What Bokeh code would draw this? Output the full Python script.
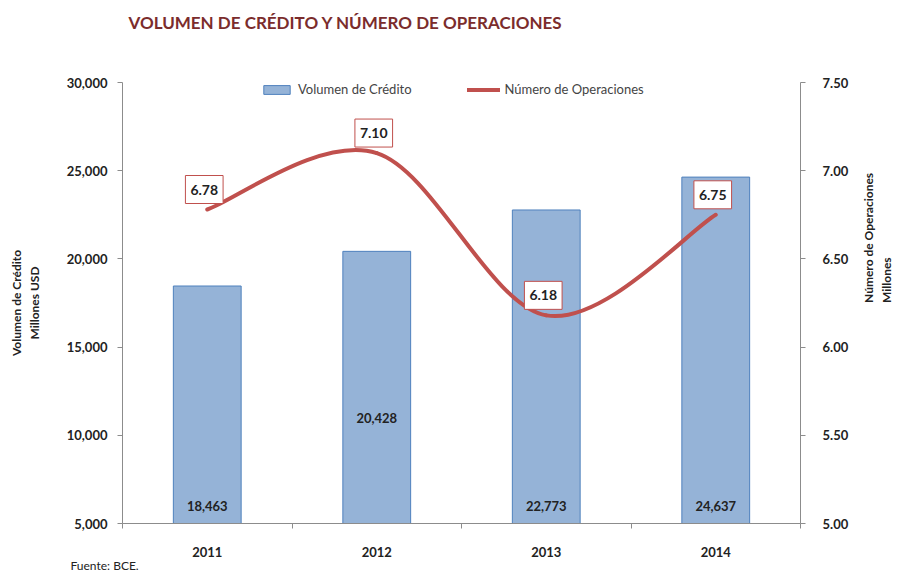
import math
from bokeh.plotting import figure
from bokeh.models import (Range1d, LinearAxis, FixedTicker, ColumnDataSource, LabelSet,
                          Legend, LegendItem, Label, NumeralTickFormatter, Title)
from bokeh.core.properties import value
from bokeh.embed import file_html
from bokeh.resources import INLINE

# ---- data ----
years = ["2011", "2012", "2013", "2014"]
volumen = [18463, 20428, 22773, 24637]
operaciones = [6.78, 7.10, 6.18, 6.75]
left_ticks = [5000, 10000, 15000, 20000, 25000, 30000]
right_ticks = [5.0, 5.5, 6.0, 6.5, 7.0, 7.5]

# ---- styles ----
FONT = "Lato"
BAR_FILL = "#95B3D7"
BAR_LINE = "#4F81BD"
LINE_COL = "#C0504D"
TITLE_COL = "#7B2C2C"
AXIS_COL = "#8C8C8C"
TXT_COL = "#222222"
bar_label_offsets = [13, 101, 13, 13]
FW, FH = 678, 441

n = len(years)
xs = [i + 0.5 for i in range(n)]

p = figure(frame_width=FW, frame_height=FH, output_backend="svg", toolbar_location=None,
           x_range=Range1d(0, n), y_range=Range1d(left_ticks[0], left_ticks[-1]),
           min_border_left=122, min_border_right=98, min_border_top=82, min_border_bottom=49)
p.extra_y_ranges = {"ops": Range1d(right_ticks[0], right_ticks[-1])}
p.outline_line_color = None
p.grid.visible = False
p.background_fill_color = "white"
p.border_fill_color = "white"

# title: blank trailing lines keep it high above the plot area
p.add_layout(Title(text="VOLUMEN DE CRÉDITO Y NÚMERO DE OPERACIONES\n \n ", align="left",
                   offset=6, standoff=16,
                   text_font=FONT, text_font_size="17px", text_font_style="bold",
                   text_color=TITLE_COL), "above")

# x axis
xa = p.xaxis[0]
xa.ticker = FixedTicker(ticks=xs, minor_ticks=list(range(n + 1)))
xa.major_label_overrides = {x: y for x, y in zip(xs, years)}
xa.major_tick_out = 0
xa.major_tick_in = 0
xa.minor_tick_out = 5
xa.minor_tick_in = 0
xa.minor_tick_line_color = AXIS_COL
xa.axis_line_color = AXIS_COL
xa.major_label_standoff = 18
xa.major_label_text_font = FONT
xa.major_label_text_font_style = "bold"
xa.major_label_text_font_size = "13px"
xa.major_label_text_color = TXT_COL

# left axis
ya = p.yaxis[0]
ya.ticker = FixedTicker(ticks=left_ticks)
ya.formatter = NumeralTickFormatter(format="0,0")
ya.minor_tick_line_color = None
ya.major_tick_in = 0
ya.major_tick_out = 5
ya.major_tick_line_color = AXIS_COL
ya.axis_line_color = AXIS_COL
ya.major_label_standoff = 10
ya.major_label_text_font = FONT
ya.major_label_text_font_style = "bold"
ya.major_label_text_font_size = "13px"
ya.major_label_text_color = TXT_COL
ya.axis_label = "Volumen de Crédito\nMillones USD"
ya.axis_label_text_font = FONT
ya.axis_label_text_font_style = "bold"
ya.axis_label_text_font_size = "12px"
ya.axis_label_text_color = TXT_COL
ya.axis_label_standoff = 22

# right axis
ra = LinearAxis(y_range_name="ops", ticker=FixedTicker(ticks=right_ticks),
                formatter=NumeralTickFormatter(format="0.00"))
ra.minor_tick_line_color = None
ra.major_tick_in = 0
ra.major_tick_out = 5
ra.major_tick_line_color = AXIS_COL
ra.axis_line_color = AXIS_COL
ra.major_label_standoff = 17
ra.major_label_text_font = FONT
ra.major_label_text_font_style = "bold"
ra.major_label_text_font_size = "13px"
ra.major_label_text_color = TXT_COL
ra.axis_label = "Número de Operaciones\nMillones"
ra.axis_label_text_font = FONT
ra.axis_label_text_font_style = "bold"
ra.axis_label_text_font_size = "12px"
ra.axis_label_text_color = TXT_COL
ra.axis_label_standoff = 26
ra.axis_label_orientation = math.pi / 2
p.add_layout(ra, "right")

# bars
bar_src = ColumnDataSource(dict(x=xs, top=volumen,
                                txt=[f"{v:,}" for v in volumen],
                                yb=[left_ticks[0]] * n, yo=bar_label_offsets))
bars = p.vbar(x="x", top="top", bottom=left_ticks[0], width=0.4, source=bar_src,
              fill_color=BAR_FILL, line_color=BAR_LINE, line_width=1)
p.add_layout(LabelSet(x="x", y="yb", text="txt", source=bar_src, y_offset="yo",
                      text_align="center", text_baseline="bottom",
                      text_font=value(FONT), text_font_style="bold", text_font_size="13px",
                      text_color=TXT_COL))

# smoothed line (Catmull-Rom -> cubic Bezier segments computed from the data)
pts = list(zip(xs, operaciones))
x0, y0, x1, y1, cx0, cy0, cx1, cy1 = [], [], [], [], [], [], [], []
for i in range(n - 1):
    pm = pts[i - 1] if i > 0 else pts[i]
    pa = pts[i]
    pb = pts[i + 1]
    pn = pts[i + 2] if i + 2 < n else pts[i + 1]
    x0.append(pa[0]); y0.append(pa[1]); x1.append(pb[0]); y1.append(pb[1])
    cx0.append(pa[0] + (pb[0] - pm[0]) / 6); cy0.append(pa[1] + (pb[1] - pm[1]) / 6)
    cx1.append(pb[0] - (pn[0] - pa[0]) / 6); cy1.append(pb[1] - (pn[1] - pa[1]) / 6)
bez = p.bezier(x0=x0, y0=y0, x1=x1, y1=y1, cx0=cx0, cy0=cy0, cx1=cx1, cy1=cy1,
               y_range_name="ops", line_color=LINE_COL, line_width=4, line_cap="round")

for xv, yv in zip(xs, operaciones):
    p.add_layout(Label(x=xv, y=yv, y_range_name="ops", text=f"{yv:.2f}",
                       x_offset=-3, y_offset=6, text_align="center", text_baseline="bottom",
                       text_font=FONT, text_font_style="bold", text_font_size="14px",
                       text_color=TXT_COL, background_fill_color="white",
                       border_line_color=LINE_COL, border_line_width=1,
                       padding=dict(left=5, right=5, top=9, bottom=9)))

legend = Legend(items=[LegendItem(label="Volumen de Crédito", renderers=[bars]),
                       LegendItem(label="Número de Operaciones", renderers=[bez])],
                orientation="horizontal", location=(138, FH - 15),
                background_fill_alpha=0, border_line_color=None,
                label_text_font=FONT, label_text_font_size="13px",
                glyph_width=33, glyph_height=11, spacing=55, margin=0, padding=2)
p.add_layout(legend)

# footer
p.add_layout(Title(text="Fuente: BCE.", align="left", offset=-52, standoff=-7,
                   text_font=FONT, text_font_size="12px", text_font_style="normal",
                   text_line_height=1.0, text_color=TXT_COL), "below")

open("out.html", "w").write(file_html(p, INLINE))
